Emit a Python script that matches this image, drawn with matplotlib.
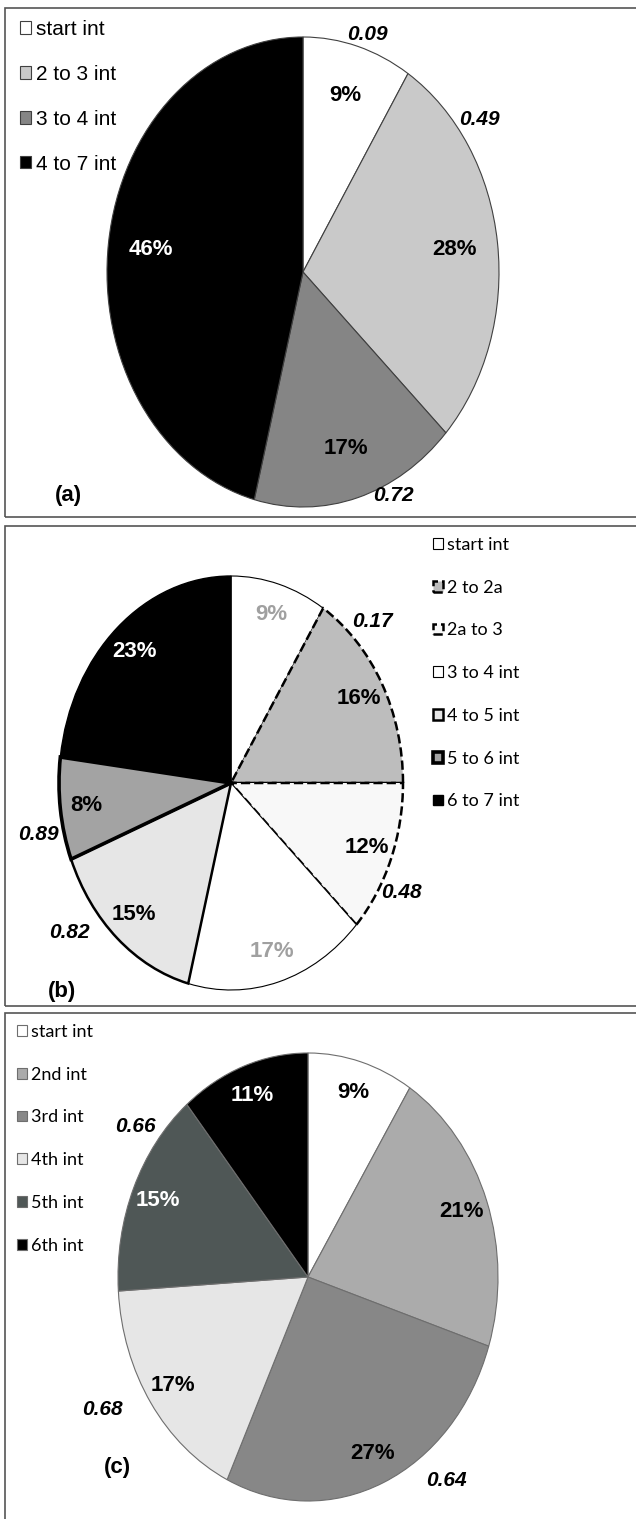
import matplotlib.pyplot as plt
from matplotlib.patches import Rectangle

# panel (a)
labels_a = ['start int', '2 to 3 int', '3 to 4 int', '4 to 7 int']
share_a = [9, 28, 17, 46]
colors_a = ['white', '#c9c9c9', '#858585', 'black']
pct_colors_a = ['black', 'black', 'black', 'white']
vals_a = ['0.09', '0.49', '0.72']

# panel (b)
labels_b = ['start int', '2 to 2a', '2a to 3', '3 to 4 int', '4 to 5 int', '5 to 6 int', '6 to 7 int']
share_b = [9, 16, 12, 17, 15, 8, 23]
colors_b = ['white', '#bdbdbd', '#f8f8f8', 'white', '#e6e6e6', '#a3a3a3', 'black']
pct_colors_b = ['#a0a0a0', 'black', 'black', '#a0a0a0', 'black', 'black', 'white']
vals_b = ['0.17', '0.48', '0.82', '0.89']

# panel (c)
labels_c = ['start int', '2nd int', '3rd int', '4th int', '5th int', '6th int']
share_c = [9, 21, 27, 17, 15, 11]
colors_c = ['white', '#ababab', '#878787', '#e6e6e6', '#4f5756', 'black']
pct_colors_c = ['black', 'black', 'black', 'black', 'white', 'white']
vals_c = ['0.66', '0.68', '0.64']

W, H = 636, 1519
narrow = ['Liberation Sans Narrow', 'Liberation Sans']
fig = plt.figure(figsize=(W / 100, H / 100), dpi=100)
fig.patch.set_facecolor('white')


def box(y0, y1):
    r = Rectangle((5 / W, 1 - y1 / H), 700 / W, (y1 - y0) / H, transform=fig.transFigure,
                  fill=False, edgecolor='#555555', linewidth=1.2)
    fig.add_artist(r)


def draw_pie(cx, cy, rx, ry, share, colors, pct_colors, pctdist, edge, lw):
    ax = fig.add_axes([(cx - rx) / W, 1 - (cy + ry) / H, 2 * rx / W, 2 * ry / H])
    wedges, texts, autotexts = ax.pie(
        share, colors=colors, startangle=90, counterclock=False,
        autopct=lambda p: f'{p:.0f}%', pctdistance=pctdist,
        wedgeprops=dict(edgecolor=edge, linewidth=lw),
        textprops=dict(family=narrow, fontweight='bold', fontsize=16))
    for t, c in zip(autotexts, pct_colors):
        t.set_color(c)
    for w in wedges:
        w.set_clip_on(False)
    ax.set_aspect('auto')
    ax.set_xlim(-1, 1)
    ax.set_ylim(-1, 1)
    ax.axis('off')
    return ax, wedges


def values(ax, vals, pos):
    for s, (x, y) in zip(vals, pos):
        ax.text(x, y, s, ha='center', va='center', family=narrow, fontweight='bold',
                fontstyle='italic', fontsize=15, clip_on=False)


def legend(handles, labels, x, y, prop, spacing):
    fig.legend(handles, labels, loc='upper left', bbox_to_anchor=(x / W, 1 - y / H),
               frameon=False, prop=prop, handlelength=0.55, handleheight=0.55,
               handletextpad=0.2, labelspacing=spacing, borderpad=0, borderaxespad=0)


box(8, 517)
box(526, 1006)
box(1013, 1540)

# (a)
ax_a, w_a = draw_pie(303, 272, 196, 235, share_a, colors_a, pct_colors_a, 0.78, '#404040', 0.8)
values(ax_a, vals_a, [(0.33, 1.01), (0.90, 0.65), (0.46, -0.95)])
legend(w_a, labels_a, 20, 20, dict(family=narrow, size=15), 1.24)
fig.text(68 / W, 1 - 495 / H, '(a)', ha='center', va='center', family='Liberation Sans',
         fontweight='bold', fontsize=16)

# (b)
ax_b, w_b = draw_pie(231, 783, 172, 207, share_b, colors_b, pct_colors_b, 0.85, 'black', 0.8)
styles_b = ['-', '--', '--', '-', '-', '-', '-']
widths_b = [0.8, 1.8, 1.8, 0.8, 1.8, 2.6, 1.0]
for w, ls, lw in zip(w_b, styles_b, widths_b):
    w.set_linestyle(ls)
    w.set_linewidth(lw)
values(ax_b, vals_b, [(0.82, 0.78), (0.99, -0.53), (-0.94, -0.72), (-1.12, -0.25)])
legend(w_b, labels_b, 433, 537, dict(family='Lato', size=13), 1.48)
fig.text(62 / W, 1 - 992 / H, '(b)', ha='center', va='center', family='Liberation Sans',
         fontweight='bold', fontsize=16)

# (c)
ax_c, w_c = draw_pie(308, 1277, 190, 224, share_c, colors_c, pct_colors_c, 0.86, '#6e6e6e', 0.8)
values(ax_c, vals_c, [(-0.91, 0.67), (-1.08, -0.59), (0.73, -0.91)])
legend(w_c, labels_c, 17, 1024, dict(family='Lato', size=13), 1.48)
fig.text(117 / W, 1 - 1468 / H, '(c)', ha='center', va='center', family='Liberation Sans',
         fontweight='bold', fontsize=16)

fig.savefig('out.png', dpi=100)
